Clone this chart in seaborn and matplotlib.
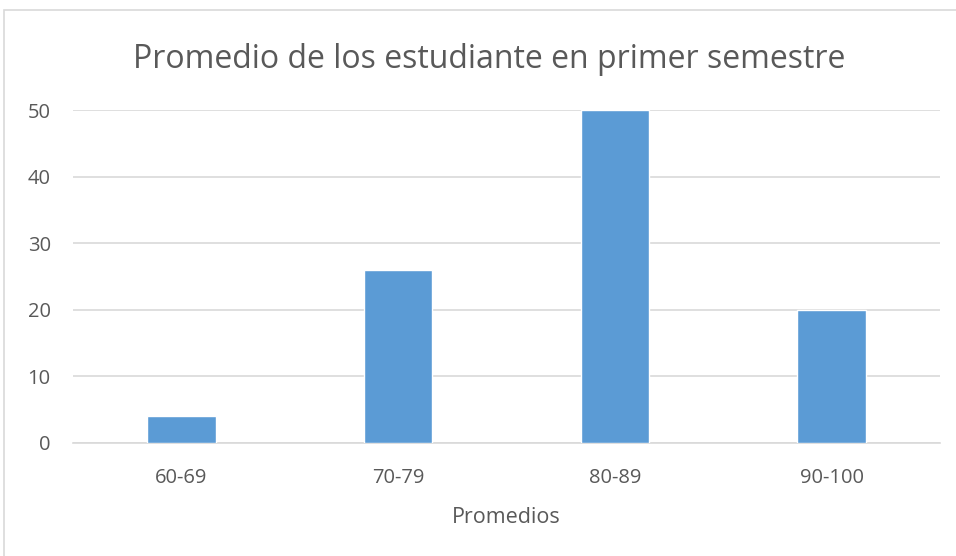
import matplotlib
matplotlib.use("Agg")
import matplotlib.pyplot as plt
import seaborn as sns
import pandas as pd
from matplotlib.patches import Rectangle

# Student average ranges and counts, first semester
rangos = ["60-69", "70-79", "80-89", "90-100"]
alumnos = [4, 26, 50, 20]

df = pd.DataFrame({"Promedios": rangos, "Alumnos": alumnos})

sns.set_style("white")
plt.rcParams["font.family"] = ["Open Sans", "DejaVu Sans"]

fig = plt.figure(figsize=(9.56, 5.56), dpi=100)
ax = fig.add_axes([73 / 956, 1 - 443 / 556, (940 - 73) / 956, (443 - 110) / 556])

sns.barplot(data=df, x="Promedios", y="Alumnos", color="#5B9BD5",
            width=0.315, saturation=1, ax=ax, zorder=3)

ax.set_ylim(0, 50)
ax.set_yticks(range(0, 51, 10))
ax.yaxis.grid(True, color="#D9D9D9", linewidth=1.2, zorder=0)
for s in ["top", "right", "left"]:
    ax.spines[s].set_visible(False)
ax.spines["bottom"].set_color("#D9D9D9")
ax.spines["bottom"].set_linewidth(1.2)
ax.tick_params(axis="both", length=0, labelsize=14.5, colors="#595959")
ax.tick_params(axis="x", pad=18)
ax.tick_params(axis="y", pad=16)
ax.set_ylabel("")
ax.set_xlabel("Promedios", fontsize=15.5, color="#595959", labelpad=14)

fig.text(0.512, 1 - 59 / 556, "Promedio de los estudiante en primer semestre",
         ha="center", va="center", fontsize=23, color="#595959")

# light chart border
fig.patches.append(Rectangle((4 / 956, -0.01), 1.0, 1 - 10 / 556 + 0.01,
                             transform=fig.transFigure, fill=False,
                             edgecolor="#D9D9D9", linewidth=1.2))

fig.savefig("out.png", dpi=100, facecolor="white")
